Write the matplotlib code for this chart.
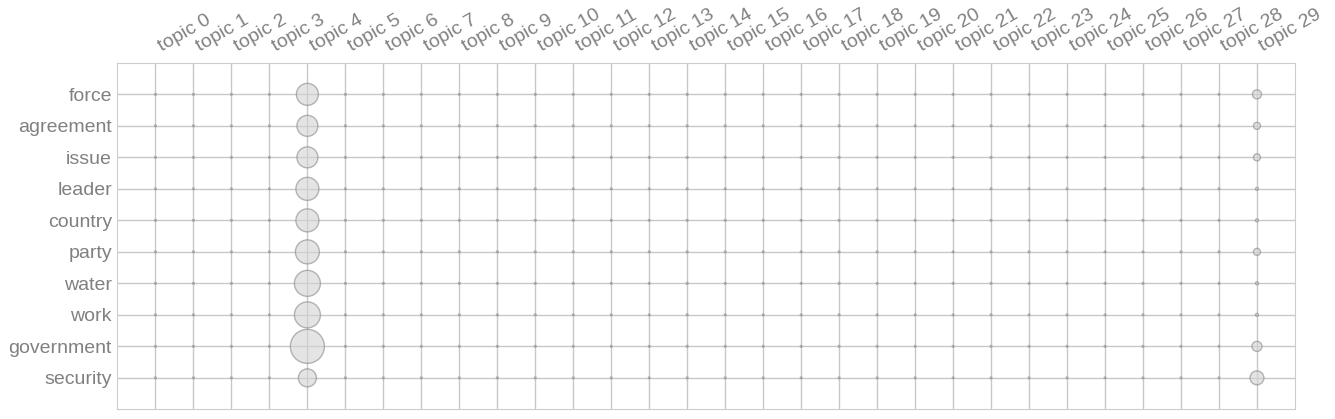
import numpy as np
from matplotlib import pyplot as plt

words = ['security', 'government', 'work', 'water', 'party',
         'country', 'leader', 'issue', 'agreement', 'force']
topics = ['topic %d' % i for i in range(30)]

# weight of each word in the two topics that stand out (bottom to top)
topic4 = [0.084, 0.30, 0.175, 0.175, 0.149, 0.137, 0.137, 0.114, 0.114, 0.125]
topic29 = [0.050, 0.026, 0.0023, 0.0023, 0.0127, 0.0023, 0.0023, 0.0127, 0.0127, 0.021]
other = 0.0008

def main():
    weights = np.full((len(words), len(topics)), other)
    weights[:, 4] = topic4
    weights[:, 29] = topic29

    xs, ys, ss = [], [], []
    for wi in range(len(words)):
        for ti in range(len(topics)):
            xs.append(ti)
            ys.append(wi)
            ss.append(weights[wi, ti] * 2000)

    fig, ax = plt.subplots(figsize=(13.35, 4.19), dpi=100)
    fig.subplots_adjust(left=0.088, right=0.970, top=0.850, bottom=0.023)
    ax.set_axisbelow(True)
    ax.grid(True, color='#c8c8c8', linewidth=1)
    ax.scatter(xs, ys, s=ss, facecolor='#d3d3d3', edgecolor='#888888',
               alpha=0.6, linewidth=1, zorder=3)

    ax.set_xlim(-1, 30)
    ax.set_ylim(-1, 10)
    ax.set_xticks(range(len(topics)))
    ax.set_yticks(range(len(words)))
    ax.xaxis.tick_top()
    ax.set_xticklabels(topics, rotation=30, ha='left',
                       fontsize=14, color='#808080', family='Liberation Sans')
    ax.set_yticklabels(words, fontsize=14, color='#808080', family='Liberation Sans')
    ax.tick_params(axis='x', length=0, pad=6)
    ax.tick_params(axis='y', length=0, pad=4)
    for sp in ax.spines.values():
        sp.set_color('#cccccc')

    plt.savefig('out.png')

main()
